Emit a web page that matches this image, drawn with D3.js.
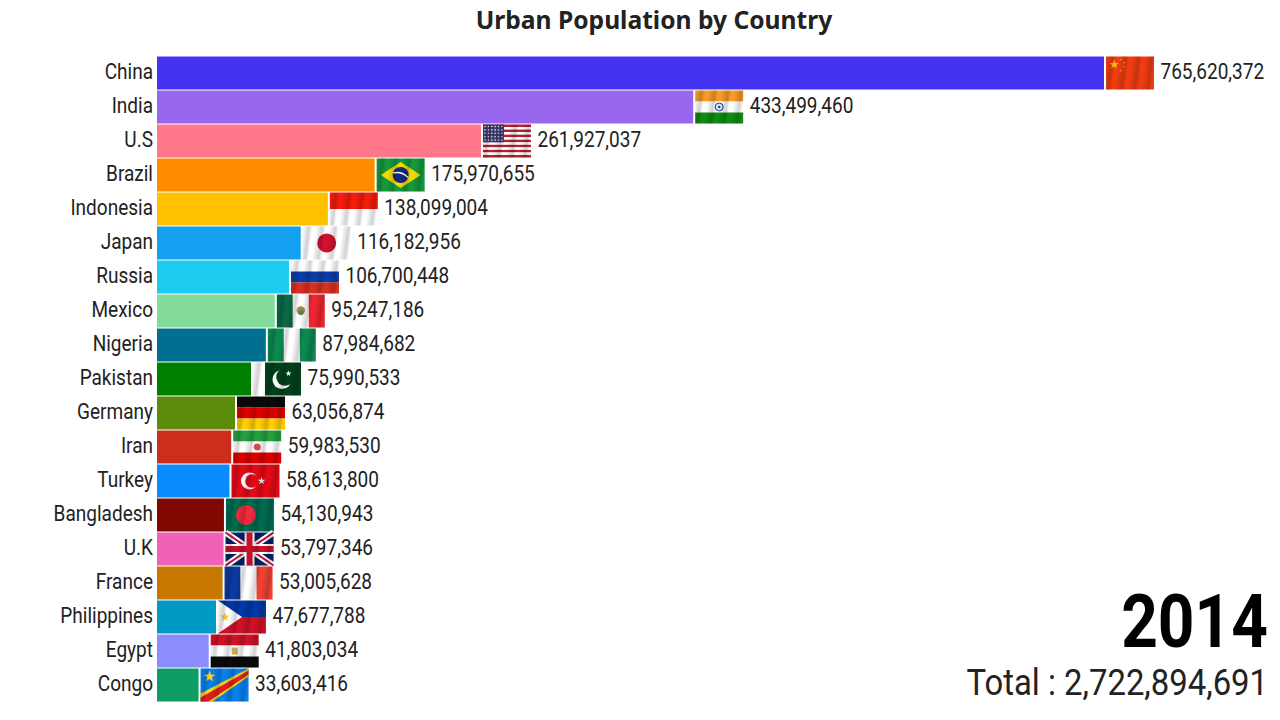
<!DOCTYPE html>
<html>
<head>
<meta charset="utf-8">
<script src="https://cdn.jsdelivr.net/npm/d3@7"></script>
<style>
html, body { margin: 0; padding: 0; background: #fff; }
svg { display: block; }
text { font-family: Roboto, sans-serif; fill: #222; }
</style>
</head>
<body>
<svg id="svg" width="1280" height="720"></svg>
<script>
const COUNTRIES = ["China", "India", "U.S", "Brazil", "Indonesia", "Japan", "Russia", "Mexico", "Nigeria", "Pakistan",
    "Germany", "Iran", "Turkey", "Bangladesh", "U.K", "France", "Philippines", "Egypt", "Congo"];
const POPULATION = [765620372, 433499460, 261927037, 175970655, 138099004, 116182956, 106700448, 95247186, 87984682, 75990533,
    63056874, 59983530, 58613800, 54130943, 53797346, 53005628, 47677788, 41803034, 33603416];
const BAR_COLORS = ["#4433f0", "#9966ee", "#ff7788", "#ff8c00", "#ffc000", "#14a0f0", "#1ccbef", "#84dc9a", "#007090", "#008000",
    "#5a8c0a", "#cc2e1e", "#0a8cff", "#800800", "#f062b8", "#c87800", "#0099c6", "#8c8cff", "#0d9d62"];
const TITLE = "Urban Population by Country";
const YEAR = "2014";
const TOTAL = "Total : 2,722,894,691";

const FLAG_W = 48, FLAG_H = 33;
const NARROW = 0.865;//the original font is condensed, squeeze Roboto to fit

var svg = d3.select("#svg");

var scaleX = d3.scaleLinear()
        .domain([0, 765620372])
        .range([157, 1104]);

var scaleY = d3.scaleBand()
        .domain(COUNTRIES)
        .range([56, 702])
        .paddingInner(0.03)
        .paddingOuter(0.015);

// waving cloth shading, drawn over every flag
var defs = svg.append("defs");
var wave = defs.append("linearGradient")
        .attr("id", "wave")
        .attr("gradientUnits", "userSpaceOnUse")
        .attr("x1", 0).attr("y1", 0)
        .attr("x2", 13).attr("y2", 1.6)
        .attr("spreadMethod", "repeat");
wave.append("stop").attr("offset", 0).attr("stop-color", "#000").attr("stop-opacity", 0);
wave.append("stop").attr("offset", 0.5).attr("stop-color", "#000").attr("stop-opacity", 0.18);
wave.append("stop").attr("offset", 0.75).attr("stop-color", "#000").attr("stop-opacity", 0);
wave.append("stop").attr("offset", 1).attr("stop-color", "#000").attr("stop-opacity", 0);

//small helpers for the flag pictures, all in a 48x33 box
function rect(g, x, y, w, h, c) {
    return g.append("rect").attr("x", x).attr("y", y).attr("width", w).attr("height", h).attr("fill", c);
}
function circle(g, x, y, r, c) {
    return g.append("circle").attr("cx", x).attr("cy", y).attr("r", r).attr("fill", c);
}
function poly(g, pts, c) {
    return g.append("polygon").attr("points", pts).attr("fill", c);
}
function star(g, cx, cy, r, c) {
    var pts = d3.range(10).map(function (i) {
        var a = -Math.PI / 2 + i * Math.PI / 5;
        var rr = i % 2 === 0 ? r : r * 0.4;
        return (cx + rr * Math.cos(a)) + "," + (cy + rr * Math.sin(a));
    }).join(" ");
    return poly(g, pts, c);
}
function hStripes(g, colors) {
    colors.forEach(function (c, i) {
        rect(g, 0, i * FLAG_H / colors.length, FLAG_W, FLAG_H / colors.length, c);
    });
}
function vStripes(g, colors) {
    colors.forEach(function (c, i) {
        rect(g, i * FLAG_W / colors.length, 0, FLAG_W / colors.length, FLAG_H, c);
    });
}

const FLAGS = {
    "China": function (g) {
        rect(g, 0, 0, FLAG_W, FLAG_H, "#f03c10");
        star(g, 8, 8, 5, "#f5c400");
        star(g, 15, 3, 1.6, "#e8a000");
        star(g, 18, 6, 1.6, "#e8a000");
        star(g, 18, 10, 1.6, "#e8a000");
        star(g, 15, 14, 1.6, "#e8a000");
    },
    "India": function (g) {
        hStripes(g, ["#f79a28", "#ffffff", "#0f8a12"]);
        g.append("circle").attr("cx", 24).attr("cy", 16.5).attr("r", 4)
                .attr("fill", "#dfe3f0").attr("stroke", "#2a3a90").attr("stroke-width", 1);
        circle(g, 24, 16.5, 1.2, "#2a3a90");
    },
    "U.S": function (g) {
        d3.range(13).forEach(function (i) {
            rect(g, 0, i * FLAG_H / 13, FLAG_W, FLAG_H / 13, i % 2 === 0 ? "#b22234" : "#ffffff");
        });
        rect(g, 0, 0, 21, 17.8, "#3c3b6e");
        d3.range(5).forEach(function (r) {
            d3.range(6).forEach(function (c) {
                circle(g, 2 + c * 3.4, 2 + r * 3.4, 0.8, "#e8e8f4");
            });
        });
    },
    "Brazil": function (g) {
        rect(g, 0, 0, FLAG_W, FLAG_H, "#16973c");
        poly(g, "4,16.5 24,3.5 44,16.5 24,29.5", "#f4dc00");
        circle(g, 24, 16.5, 8, "#14287c");
        g.append("path").attr("d", "M16.5,14.5 Q25,12.5 31.5,19").attr("fill", "none")
                .attr("stroke", "#fff").attr("stroke-width", 1.4);
    },
    "Indonesia": function (g) {
        hStripes(g, ["#f51c0c", "#ffffff"]);
    },
    "Japan": function (g) {
        rect(g, 0, 0, FLAG_W, FLAG_H, "#ffffff");
        circle(g, 24, 16.5, 9.5, "#d5102f");
    },
    "Russia": function (g) {
        hStripes(g, ["#ffffff", "#0a3ca8", "#d8301f"]);
    },
    "Mexico": function (g) {
        vStripes(g, ["#0b6847", "#ffffff", "#ee2530"]);
        circle(g, 24, 16, 4.2, "#a8884a");
        circle(g, 24, 18, 2.6, "#4f8a50");
    },
    "Nigeria": function (g) {
        vStripes(g, ["#0b8a50", "#ffffff", "#0b8a50"]);
    },
    "Pakistan": function (g) {
        rect(g, 0, 0, 12, FLAG_H, "#ffffff");
        rect(g, 12, 0, 36, FLAG_H, "#01411c");
        circle(g, 29, 17, 9.5, "#ffffff");
        circle(g, 32, 14.5, 8.8, "#01411c");
        star(g, 35.5, 11, 3, "#ffffff");
    },
    "Germany": function (g) {
        hStripes(g, ["#0a0a0a", "#dd0000", "#ffce00"]);
    },
    "Iran": function (g) {
        hStripes(g, ["#239f40", "#ffffff", "#da0000"]);
        circle(g, 24, 16.5, 3.5, "#d05050");
    },
    "Turkey": function (g) {
        rect(g, 0, 0, FLAG_W, FLAG_H, "#e30a17");
        circle(g, 18, 16.5, 8.5, "#ffffff");
        circle(g, 20.5, 16.5, 6.8, "#e30a17");
        star(g, 30, 16.5, 4, "#ffffff");
    },
    "Bangladesh": function (g) {
        rect(g, 0, 0, FLAG_W, FLAG_H, "#006a4e");
        circle(g, 20, 16.5, 10, "#f02a3c");
    },
    "U.K": function (g) {
        rect(g, 0, 0, FLAG_W, FLAG_H, "#012169");
        g.append("path").attr("d", "M0,0 L48,33 M48,0 L0,33").attr("stroke", "#fff").attr("stroke-width", 6);
        g.append("path").attr("d", "M0,0 L48,33 M48,0 L0,33").attr("stroke", "#c8102e").attr("stroke-width", 2);
        rect(g, 19, 0, 10, FLAG_H, "#ffffff");
        rect(g, 0, 11.5, FLAG_W, 10, "#ffffff");
        rect(g, 21, 0, 6, FLAG_H, "#c8102e");
        rect(g, 0, 13.5, FLAG_W, 6, "#c8102e");
    },
    "France": function (g) {
        vStripes(g, ["#0a3a9f", "#ffffff", "#ef4135"]);
    },
    "Philippines": function (g) {
        rect(g, 0, 0, FLAG_W, 16.5, "#0038a8");
        rect(g, 0, 16.5, FLAG_W, 16.5, "#ce1126");
        poly(g, "0,0 24,16.5 0,33", "#ffffff");
        star(g, 7, 16.5, 5, "#f0cc40");
    },
    "Egypt": function (g) {
        hStripes(g, ["#ce1126", "#ffffff", "#0a0a0a"]);
        rect(g, 21, 13, 6, 7, "#c8a850");
    },
    "Congo": function (g) {
        rect(g, 0, 0, FLAG_W, FLAG_H, "#0a7fee");
        poly(g, "0,33 0,25 48,0 48,8 12,33", "#f7d618");
        poly(g, "0,33 0,29 48,2 48,6 8,33", "#e02020");
        star(g, 9, 8, 6, "#f7d618");
    }
};

//title
svg.append("text")
        .attr("x", 654)
        .attr("y", 29)
        .attr("text-anchor", "middle")
        .style("font-family", "'Noto Sans', sans-serif")
        .style("font-size", "24.6px")
        .style("font-weight", "700")
        .text(TITLE);

//bars
svg.selectAll("rect.bar")
        .data(COUNTRIES)
        .enter()
        .append("rect")
        .attr("class", "bar")
        .attr("x", scaleX(0))
        .attr("y", (d) => scaleY(d))
        .attr("width", (d, i) => scaleX(POPULATION[i]) - scaleX(0))
        .attr("height", scaleY.bandwidth())
        .attr("fill", (d, i) => BAR_COLORS[i]);

//flags sit right after the end of each bar
var flag = svg.selectAll("g.flag")
        .data(COUNTRIES)
        .enter()
        .append("g")
        .attr("class", "flag")
        .attr("transform", (d, i) => "translate(" + (scaleX(POPULATION[i]) + 2) + "," + scaleY(d) + ")");

flag.each(function (d) {
    var g = d3.select(this);
    FLAGS[d](g);
    rect(g, 0, 0, FLAG_W, FLAG_H, "url(#wave)");
});

//value labels
svg.selectAll("text.value")
        .data(COUNTRIES)
        .enter()
        .append("text")
        .attr("class", "value")
        .attr("transform", (d, i) => "translate(" + (scaleX(POPULATION[i]) + FLAG_W + 8.5) + "," + (scaleY(d) + 22.5) + ") scale(" + NARROW + ",1)")
        .style("font-size", "22px")
        .text((d, i) => d3.format(",")(POPULATION[i]));

//country names
var yAxis = d3.axisLeft(scaleY).tickSize(0).tickPadding(0);
var axisG = svg.append("g")
        .attr("transform", "translate(153,0)")
        .call(yAxis);
axisG.select(".domain").remove();
axisG.selectAll("text")
        .attr("x", 0)
        .attr("dy", null)
        .attr("y", 6)
        .attr("transform", "scale(" + NARROW + ",1)")
        .style("font-family", "Roboto, sans-serif")
        .style("font-size", "22px")
        .style("fill", "#222");

//year and total
svg.append("text")
        .attr("text-anchor", "end")
        .attr("transform", "translate(1268,647) scale(0.865,1)")
        .style("font-size", "74px")
        .style("font-weight", "700")
        .style("fill", "#000")
        .text(YEAR);

svg.append("text")
        .attr("text-anchor", "end")
        .attr("transform", "translate(1268,695) scale(0.888,1)")
        .style("font-size", "37px")
        .text(TOTAL);
</script>
</body>
</html>
